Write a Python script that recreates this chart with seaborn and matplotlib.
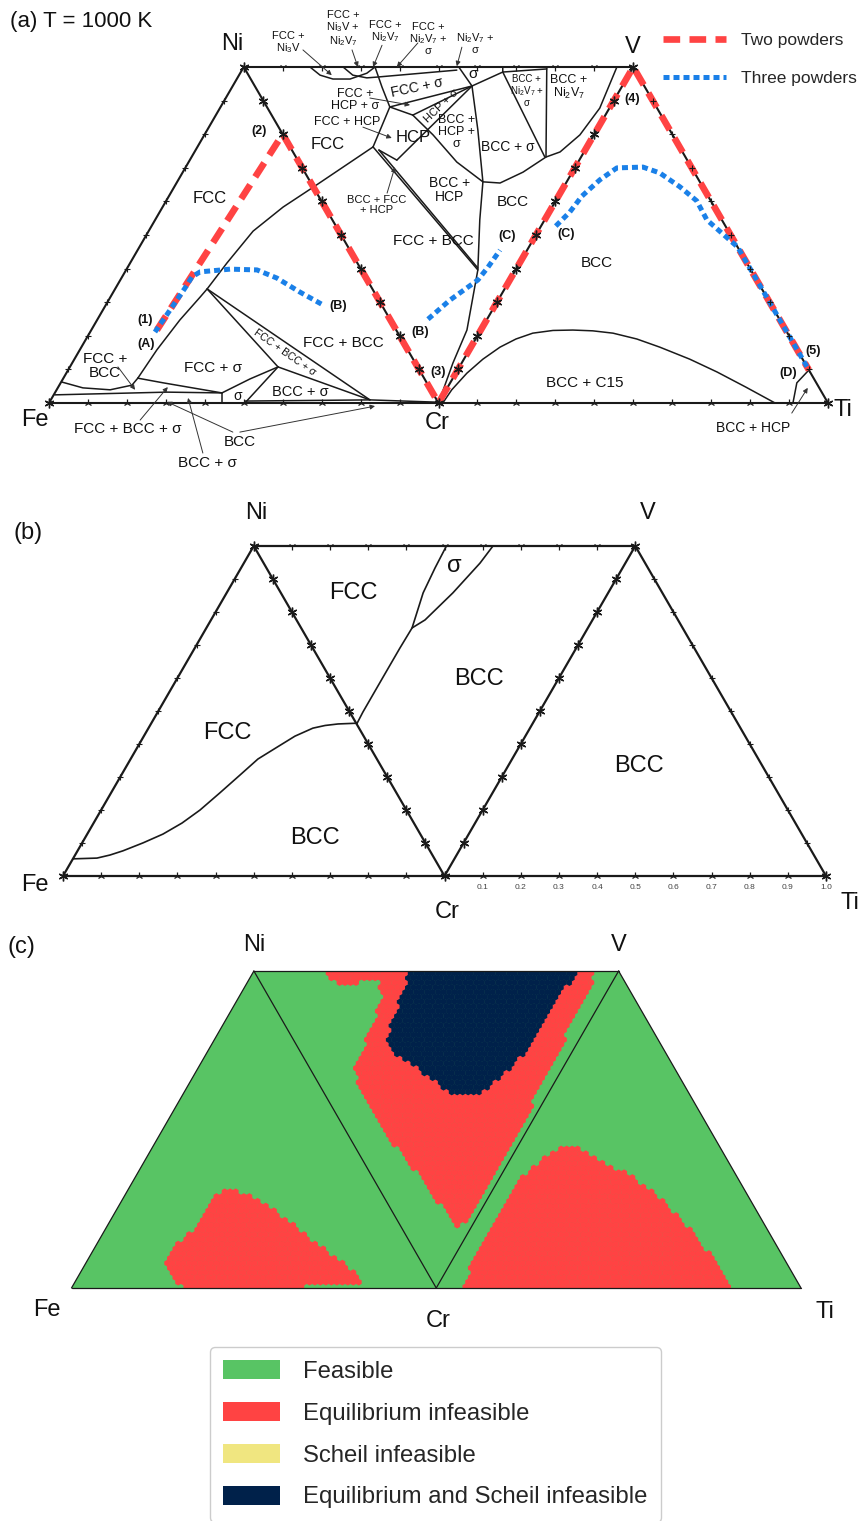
import numpy as np
import matplotlib
matplotlib.use("Agg")
import matplotlib.pyplot as plt
from matplotlib.patches import Polygon, Patch
from matplotlib.lines import Line2D
from matplotlib.path import Path
import seaborn as sns

# strip coordinates: Fe=0, Cr=100, Ti=200 on the base, Ni / V at the top (height H)
H = 86.6

# ---------------- panel (a) : powder paths ----------------
two_x = [27.7, 60.0, 100.0, 150.0, 195.1]
two_y = [18.8, 69.3, 0.0, 86.6, 8.5]
three1_x = [27.2, 31.1, 34.9, 36.7, 38.8, 46.5, 53.4, 58.5, 64.4, 70.3]
three1_y = [18.3, 24.0, 29.6, 32.5, 33.8, 34.5, 34.3, 32.2, 28.6, 25.3]
three2_x = [97.3, 102.9, 110.1, 112.7, 115.8]
three2_y = [21.6, 26.5, 31.7, 35.0, 39.4]
three3_x = [130.1, 133.7, 136.8, 141.4, 145.8, 152.5, 156.8, 162.0, 166.3, 168.9, 176.8, 194.8]
three3_y = [45.6, 49.2, 53.3, 57.5, 60.6, 60.8, 59.3, 55.7, 52.1, 47.2, 40.2, 9.0]

# ---------------- panel (a) : phase boundaries ----------------
a_fcc_x = [22.8, 27.7, 33.6, 38.8, 40.6, 45.7, 52.4, 60.1, 67.5, 75.5, 83.2]
a_fcc_y = [6.4, 13.7, 21.4, 27.3, 29.4, 36.1, 44.3, 50.5, 55.4, 60.8, 66.0]
a_u_x = [3.3, 8.7, 15.7, 21.3, 22.8]
a_u_y = [5.4, 3.9, 3.4, 4.6, 6.4]
a_l1_x = [22.8, 29.3, 44.4]
a_l1_y = [6.4, 5.2, 2.6]
a_l2_x = [1.5, 30.3, 44.4]
a_l2_y = [2.1, 2.8, 2.6]
a_sigtop_x = [44.4, 51.6, 58.8]
a_sigtop_y = [2.6, 6.2, 9.3]
a_sigl_x = [44.4, 44.4]
a_sigl_y = [2.6, 0.0]
a_sigr_x = [50.3, 58.8]
a_sigr_y = [0.0, 9.3]
a_j1a_x = [40.6, 58.8]
a_j1a_y = [29.4, 9.3]
a_j1b_x = [40.6, 82.4]
a_j1b_y = [29.4, 0.8]
a_bs_x = [58.8, 82.4]
a_bs_y = [9.3, 0.8]
a_bot_x = [50.3, 82.4, 100.0]
a_bot_y = [0.5, 0.8, 0.2]

m_arc1_x = [67.0, 69.6, 72.9, 77.3, 81.6, 83.7]
m_arc1_y = [86.6, 84.5, 83.5, 83.5, 85.0, 86.6]
m_arc2_x = [75.5, 78.0, 81.6, 84.2, 104.7]
m_arc2_y = [86.6, 84.5, 83.8, 84.0, 85.8]
m_sigl_x = [105.2, 108.6]
m_sigl_y = [86.6, 81.7]
m_sigr_x = [108.6, 116.5, 116.5]
m_sigr_y = [81.7, 85.3, 86.6]
m_strip_x = [116.5, 127.8]
m_strip_y = [85.3, 86.1]
m_bns_x = [116.5, 127.3]
m_bns_y = [85.3, 63.4]
m_vert_x = [127.8, 127.6]
m_vert_y = [86.6, 63.4]
m_bcc_x = [93.4, 98.6, 104.7, 111.4, 115.8, 121.7, 127.6, 131.2, 136.3, 141.4, 145.8]
m_bcc_y = [74.2, 69.1, 62.1, 57.0, 56.7, 59.5, 63.4, 64.7, 69.1, 76.0, 86.6]
m_down_x = [108.6, 110.1, 111.4, 110.6, 110.1, 107.3, 103.7, 100.0]
m_down_y = [81.7, 70.4, 57.0, 47.2, 34.3, 18.8, 10.3, 0.0]
m_fcc_x = [83.7, 85.5, 87.5]
m_fcc_y = [86.6, 81.4, 76.3]
m_p1s_x = [87.5, 108.6]
m_p1s_y = [76.3, 81.7]
m_p12_x = [87.5, 83.2]
m_p12_y = [76.3, 66.0]
m_p13_x = [87.5, 93.4]
m_p13_y = [76.3, 74.2]
m_p3s_x = [93.4, 108.6]
m_p3s_y = [74.2, 81.7]
m_p4s_x = [89.3, 108.6]
m_p4s_y = [62.6, 81.7]
m_box_x = [84.7, 89.3]
m_box_y = [65.2, 62.6]
m_dbla_x = [83.2, 110.1]
m_dbla_y = [66.0, 34.3]
m_dblb_x = [84.7, 110.1]
m_dblb_y = [65.2, 34.8]

r_c15_x = [101.1, 103.4, 107.3, 111.4, 115.8, 119.9, 124.2, 129.4, 134.5, 139.6, 144.8, 150.9,
           156.8, 164.5, 171.5, 178.9, 186.4]
r_c15_y = [0.0, 3.4, 7.7, 11.3, 14.4, 16.5, 18.0, 18.7, 18.8, 18.6, 18.0, 16.5,
           14.4, 11.3, 8.0, 4.1, 0.0]
r_hcp_x = [191.0, 192.0, 195.1]
r_hcp_y = [0.0, 5.2, 8.5]

# ---------------- panel (b) ----------------
b_fb_x = [2.6, 5.8, 8.9, 12.3, 15.7, 21.0, 26.2, 31.2, 35.9, 41.1, 46.4, 51.1, 56.1, 60.8,
          65.5, 68.7, 72.1, 77.1]
b_fb_y = [4.5, 4.6, 4.7, 5.5, 6.6, 8.7, 11.0, 13.9, 17.3, 21.8, 26.5, 30.7, 33.8, 36.7,
          38.8, 39.5, 39.9, 40.1]
b_fs_x = [77.1, 78.6, 83.9, 88.3, 91.5, 94.4, 97.5, 100.5]
b_fs_y = [40.1, 43.0, 52.2, 59.8, 65.1, 74.3, 80.8, 86.6]
b_sig_x = [91.5, 94.9, 102.2, 109.3, 112.7]
b_sig_y = [65.1, 67.2, 74.3, 82.1, 86.6]
b_tick_labels = ["0.1", "0.2", "0.3", "0.4", "0.5", "0.6", "0.7", "0.8", "0.9", "1.0"]

# ---------------- panel (c) : feasibility regions ----------------
c_red1_x = [25.6, 28.7, 33.3, 38.5, 43.7, 46.8, 54.4, 61.8, 70.9, 76.9, 79.9, 77.7, 64.0, 62.7, 31.7, 25.6]
c_red1_y = [7.1, 11.7, 15.8, 24.9, 27.3, 26.0, 22.1, 16.4, 9.6, 4.9, 1.9, 1.1, 1.1, -1.0, -1.0, 4.9]
c_red2_x = [69.5, 70.9, 73.9, 84.6, 85.1, 81.6, 77.7, 78.6, 82.9, 89.0, 96.7, 102.7, 105.7,
            108.2, 114.8, 123.5, 131.6, 138.6, 142.7, 144.1]
c_red2_y = [87.5, 83.6, 83.3, 83.6, 78.7, 69.7, 60.4, 54.9, 46.7, 38.5, 28.7, 20.5, 16.4,
            18.6, 30.0, 45.0, 60.0, 75.9, 83.3, 87.5]
c_navy_x = [92.8, 91.2, 89.0, 86.8, 87.6, 92.8, 98.0, 103.5, 112.6, 116.9, 122.1, 126.8, 130.7, 134.2, 138.1, 138.9]
c_navy_y = [87.5, 82.2, 75.9, 68.6, 64.2, 61.5, 57.6, 53.3, 53.3, 56.8, 61.5, 67.8, 74.0, 80.6, 85.0, 87.5]
c_red3_x = [107.1, 110.1, 116.1, 123.8, 129.8, 134.2, 138.9, 146.3, 154.0, 160.0, 167.4, 173.4, 178.1, 181.1]
c_red3_y = [-1.0, 7.6, 18.6, 30.3, 35.8, 38.2, 38.2, 34.1, 30.3, 26.0, 18.6, 11.2, 5.7, -1.0]
c_grid_step = 1.5
legend_labels = ["Feasible", "Equilibrium infeasible", "Scheil infeasible", "Equilibrium and Scheil infeasible"]

# ---------------- style ----------------
RED = "#ff4343"
BLUE = "#1a80e8"
GREEN = "#58c464"
NAVY = "#00214a"
YELLOW = "#f0e680"

sns.set_theme(style="white")
plt.rcParams["font.family"] = ["Liberation Sans", "DejaVu Sans"]
plt.rcParams["mathtext.fontset"] = "custom"
plt.rcParams["mathtext.rm"] = "Liberation Sans"
plt.rcParams["mathtext.it"] = "Liberation Sans:italic"
plt.rcParams["mathtext.bf"] = "Liberation Sans:bold"

W_PX, H_PX = 863, 1521
fig = plt.figure(figsize=(W_PX / 100, H_PX / 100), dpi=100)
fig.patch.set_facecolor("white")

FE, CR, TI, NI, V = (0, 0), (100, 0), (200, 0), (50, H), (150, H)


def panel_axes(left, right, top, bottom):
    ax = fig.add_axes([left / W_PX, 1 - bottom / H_PX, (right - left) / W_PX, (bottom - top) / H_PX])
    ax.set_xlim(0, 200)
    ax.set_ylim(0, H)
    ax.set_autoscale_on(False)
    ax.axis("off")
    return ax


def curve(ax, xs, ys, lw=1.1, color="k", z=2):
    sns.lineplot(x=xs, y=ys, sort=False, estimator=None, color=color, linewidth=lw,
                 ax=ax, clip_on=False, legend=False, zorder=z)


def outline(ax, lw):
    xs = [FE[0], NI[0], CR[0], V[0], TI[0], FE[0]]
    ys = [FE[1], NI[1], CR[1], V[1], TI[1], FE[1]]
    ax.plot(xs, ys, color="k", lw=lw, clip_on=False, zorder=2, solid_joinstyle="miter")
    ax.plot([NI[0], V[0]], [NI[1], V[1]], color="k", lw=lw, clip_on=False, zorder=2)


def edge_ticks(ax, p0, p1, marker, ms, mew, n=10):
    t = np.arange(1, n) / n
    xs = p0[0] + (p1[0] - p0[0]) * t
    ys = p0[1] + (p1[1] - p0[1]) * t
    ax.plot(xs, ys, ls="none", marker=marker, ms=ms, mew=mew, color="k", clip_on=False, zorder=4)


def all_ticks(ax):
    star = (6, 2, 0)
    edge_ticks(ax, FE, NI, "+", 4, 0.8)
    edge_ticks(ax, NI, CR, star, 7, 1.0)
    edge_ticks(ax, CR, V, star, 7, 1.0)
    edge_ticks(ax, V, TI, "+", 4, 0.8)
    edge_ticks(ax, NI, V, "1", 6, 0.9)
    edge_ticks(ax, FE, CR, "2", 6, 0.9)
    edge_ticks(ax, CR, TI, "2", 6, 0.9)
    ax.plot([FE[0], CR[0], TI[0], NI[0], V[0]], [FE[1], CR[1], TI[1], NI[1], V[1]], ls="none",
            marker=star, ms=7, mew=1.0, color="k", clip_on=False, zorder=4)


def arrow(ax, tail, head, color="#333333"):
    ax.annotate("", xy=head, xytext=tail, annotation_clip=False,
                arrowprops=dict(arrowstyle="-|>", color=color, lw=0.7, mutation_scale=7,
                                shrinkA=0, shrinkB=0), zorder=5)


def label(ax, s, x, y, size, rot=0, bold=False, ha="center", ls=1.0):
    ax.text(x, y, s, fontsize=size, ha=ha, va="center", rotation=rot, rotation_mode="anchor",
            fontweight="bold" if bold else "normal", linespacing=ls, zorder=6, color="#111111")


# ======================= panel (a) =======================
ax_a = panel_axes(49, 828, 67, 403)
outline(ax_a, 1.5)
for xs, ys in [(a_fcc_x, a_fcc_y), (a_u_x, a_u_y), (a_l1_x, a_l1_y), (a_l2_x, a_l2_y),
               (a_sigtop_x, a_sigtop_y), (a_sigl_x, a_sigl_y), (a_sigr_x, a_sigr_y),
               (a_j1a_x, a_j1a_y), (a_j1b_x, a_j1b_y), (a_bs_x, a_bs_y), (a_bot_x, a_bot_y),
               (m_arc1_x, m_arc1_y), (m_arc2_x, m_arc2_y), (m_sigl_x, m_sigl_y), (m_sigr_x, m_sigr_y),
               (m_strip_x, m_strip_y), (m_bns_x, m_bns_y), (m_vert_x, m_vert_y), (m_bcc_x, m_bcc_y),
               (m_down_x, m_down_y), (m_fcc_x, m_fcc_y), (m_p1s_x, m_p1s_y), (m_p12_x, m_p12_y),
               (m_p13_x, m_p13_y), (m_p3s_x, m_p3s_y), (m_p4s_x, m_p4s_y), (m_box_x, m_box_y),
               (m_dbla_x, m_dbla_y), (m_dblb_x, m_dblb_y), (r_c15_x, r_c15_y), (r_hcp_x, r_hcp_y)]:
    curve(ax_a, xs, ys, lw=1.1)

ax_a.plot(two_x, two_y, color=RED, lw=4.8, dashes=(2.5, 1.4), dash_capstyle="butt",
          clip_on=False, zorder=3)
for xs, ys in [(three1_x, three1_y), (three2_x, three2_y), (three3_x, three3_y)]:
    ax_a.plot(xs, ys, color=BLUE, lw=3.6, dashes=(1.2, 0.8), dash_capstyle="butt",
              clip_on=False, zorder=3.5)
all_ticks(ax_a)

ax_a.text(-10.0, 98.2, "(a) T = 1000 K", fontsize=16, ha="left", va="center", color="#111111")
for s, x, y in [("Ni", 47.0, 92.5), ("V", 149.9, 91.7), ("Fe", -3.6, -4.4),
                ("Cr", 99.6, -5.2), ("Ti", 203.8, -1.8)]:
    label(ax_a, s, x, y, 17)

for s, x, y, sz in [("FCC", 41.3, 52.8, 12), ("FCC + σ", 42.1, 9.0, 11), ("σ", 48.5, 1.9, 10),
                    ("BCC + σ", 64.5, 2.8, 10.5), ("FCC + BCC", 75.5, 15.5, 11),
                    ("FCC +\nBCC", 14.4, 9.5, 11), ("FCC + BCC + σ", 20.3, -6.7, 11),
                    ("BCC", 49.0, -10.1, 11), ("BCC + σ", 40.8, -15.5, 11),
                    ("FCC + BCC", 98.8, 41.7, 11), ("BCC", 140.7, 36.1, 11),
                    ("BCC + C15", 137.6, 5.2, 11), ("BCC + HCP", 180.7, -6.4, 10),
                    ("FCC", 71.6, 66.5, 12), ("HCP", 93.4, 68.5, 12),
                    ("BCC +\nHCP", 102.9, 54.9, 10), ("BCC", 119.1, 51.8, 11),
                    ("BCC + σ", 117.8, 66.0, 10), ("σ", 108.8, 84.8, 11),
                    ("BCC +\nHCP +\nσ", 104.7, 69.8, 9), ("FCC +\nHCP + σ", 78.6, 78.1, 9),
                    ("FCC + HCP", 76.5, 72.4, 9), ("BCC + FCC\n+ HCP", 84.2, 51.0, 8),
                    ("FCC +\nNi$_3$V", 61.4, 92.8, 8), ("FCC +\nNi$_3$V +\nNi$_2$V$_7$", 75.5, 96.4, 8),
                    ("FCC +\nNi$_2$V$_7$", 86.3, 95.6, 8), ("FCC +\nNi$_2$V$_7$ +\nσ", 97.3, 93.8, 8),
                    ("Ni$_2$V$_7$ +\nσ", 109.4, 92.8, 8), ("BCC +\nNi$_2$V$_7$ +\nσ", 122.7, 80.4, 7),
                    ("BCC +\nNi$_2$V$_7$", 133.5, 81.4, 9)]:
    label(ax_a, s, x, y, sz)
ax_a.text(60.6, 13.1, "FCC + BCC + σ", fontsize=7.5, rotation=-35, ha="center", va="center",
          rotation_mode="anchor", color="#111111", zorder=6)
ax_a.text(94.5, 81.2, "FCC + σ", fontsize=10, rotation=12, ha="center", va="center",
          rotation_mode="anchor", color="#111111", zorder=6)
ax_a.text(100.6, 76.6, "HCP + σ", fontsize=8, rotation=44, ha="center", va="center",
          rotation_mode="anchor", color="#111111", zorder=6)

for s, x, y in [("(1)", 24.6, 21.4), ("(A)", 24.9, 15.2), ("(2)", 53.9, 70.1), ("(B)", 74.2, 25.0),
                ("(B)", 95.2, 18.3), ("(3)", 99.9, 8.0), ("(C)", 117.6, 43.0), ("(C)", 132.7, 43.6),
                ("(4)", 149.7, 78.3), ("(5)", 196.1, 13.4), ("(D)", 189.7, 7.7)]:
    label(ax_a, s, x, y, 9, bold=True)

for tail, head in [((17.7, 9.3), (22.1, 3.4)), ((23.4, -4.4), (30.5, 4.1)),
                   ((47.2, -7.5), (30.3, 0.3)), ((49.0, -7.5), (83.7, -0.8)),
                   ((39.5, -12.9), (35.7, 1.3)), ((65.2, 91.0), (72.6, 84.5)),
                   ((77.8, 91.0), (79.3, 86.6)), ((85.5, 92.2), (83.2, 86.6)),
                   ((94.7, 92.8), (89.3, 86.6)), ((106.0, 91.7), (104.7, 86.8)),
                   ((82.4, 78.6), (92.7, 76.8)), ((80.6, 71.1), (88.0, 68.3)),
                   ((86.8, 54.1), (88.8, 60.8)), ((190.7, -2.6), (194.8, 3.9))]:
    arrow(ax_a, tail, head)

leg_a = ax_a.legend(handles=[Line2D([], [], color=RED, lw=4.8, dashes=(2.5, 1.4)),
                             Line2D([], [], color=BLUE, lw=3.6, dashes=(1.2, 0.8))],
                    labels=["Two powders", "Three powders"], loc="upper left",
                    bbox_to_anchor=(658 / W_PX, 1 - 28 / H_PX), bbox_transform=fig.transFigure,
                    frameon=False, fontsize=12.5, handlelength=3.6, handletextpad=0.9,
                    labelspacing=1.3, borderpad=0.3, borderaxespad=0)

# ======================= panel (b) =======================
ax_b = panel_axes(63, 826, 546, 876)
outline(ax_b, 1.6)
for xs, ys in [(b_fb_x, b_fb_y), (b_fs_x, b_fs_y), (b_sig_x, b_sig_y)]:
    curve(ax_b, xs, ys, lw=1.2)
all_ticks(ax_b)
ax_b.text(-9.2, 90.0, "(b)", fontsize=17, ha="center", va="center", color="#111111")
for s, x, y in [("Ni", 50.6, 95.3), ("V", 153.3, 95.3), ("Fe", -7.3, -2.4),
                ("Cr", 100.6, -9.4), ("Ti", 206.3, -7.1)]:
    label(ax_b, s, x, y, 17)
for s, x, y in [("FCC", 76.0, 74.3), ("FCC", 43.0, 37.5), ("BCC", 66.0, 10.0), ("σ", 102.7, 81.3),
                ("BCC", 109.0, 51.7), ("BCC", 151.0, 28.9)]:
    label(ax_b, s, x, y, 17)
for k, s in enumerate(b_tick_labels):
    ax_b.text(100 + 10 * (k + 1), -2.9, s, fontsize=6, ha="center", va="center", color="#444444")

# ======================= panel (c) =======================
ax_c = panel_axes(71.5, 801, 971, 1288)
trap = Polygon([FE, TI, V, NI], closed=True, fc=GREEN, ec="none", zorder=1)
ax_c.add_patch(trap)

dy = c_grid_step * np.sqrt(3) / 2
pts = []
for j in range(int(H / dy) + 2):
    off = (j % 2) * c_grid_step / 2
    for i in range(-2, int(200 / c_grid_step) + 3):
        pts.append((i * c_grid_step + off, 0.3 + j * dy))
pts = np.array(pts)
cat = np.zeros(len(pts), dtype=int)
for xs, ys, code in [(c_red1_x, c_red1_y, 1), (c_red2_x, c_red2_y, 1),
                     (c_red3_x, c_red3_y, 1), (c_navy_x, c_navy_y, 3)]:
    inside = Path(np.column_stack([xs, ys])).contains_points(pts)
    cat[inside] = code
mask = cat > 0
names = np.array(legend_labels)
sns.scatterplot(x=pts[mask, 0], y=pts[mask, 1], hue=names[cat[mask]],
                palette={"Equilibrium infeasible": RED, "Equilibrium and Scheil infeasible": NAVY},
                marker="h", s=24, linewidth=0, legend=False, ax=ax_c, zorder=2)
clip_poly = Polygon([FE, TI, V, NI], closed=True, transform=ax_c.transData)
for coll in ax_c.collections:
    coll.set_clip_path(clip_poly)

for p0, p1 in [(FE, NI), (NI, CR), (CR, V), (V, TI), (FE, TI), (NI, V)]:
    ax_c.plot([p0[0], p1[0]], [p0[1], p1[1]], color="k", lw=0.9, clip_on=False, zorder=3)

ax_c.text(-13.6, 93.2, "(c)", fontsize=17, ha="center", va="center", color="#111111")
for s, x, y in [("Ni", 50.0, 93.7), ("V", 150.1, 93.7), ("Fe", -6.7, -6.0),
                ("Cr", 100.4, -9.0), ("Ti", 206.6, -6.6)]:
    label(ax_c, s, x, y, 17)

handles = [Patch(fc=c, ec="none") for c in [GREEN, RED, YELLOW, NAVY]]
fig.legend(handles=handles, labels=legend_labels, loc="upper left",
           bbox_to_anchor=(210 / W_PX, 1 - 1347 / H_PX), fontsize=17.2, handlelength=2.4,
           handleheight=0.84, handletextpad=0.95, labelspacing=0.8, borderpad=0.55,
           borderaxespad=0, frameon=True, fancybox=True, edgecolor="#cccccc", framealpha=1)

fig.savefig("out.png", dpi=100, facecolor="white")
